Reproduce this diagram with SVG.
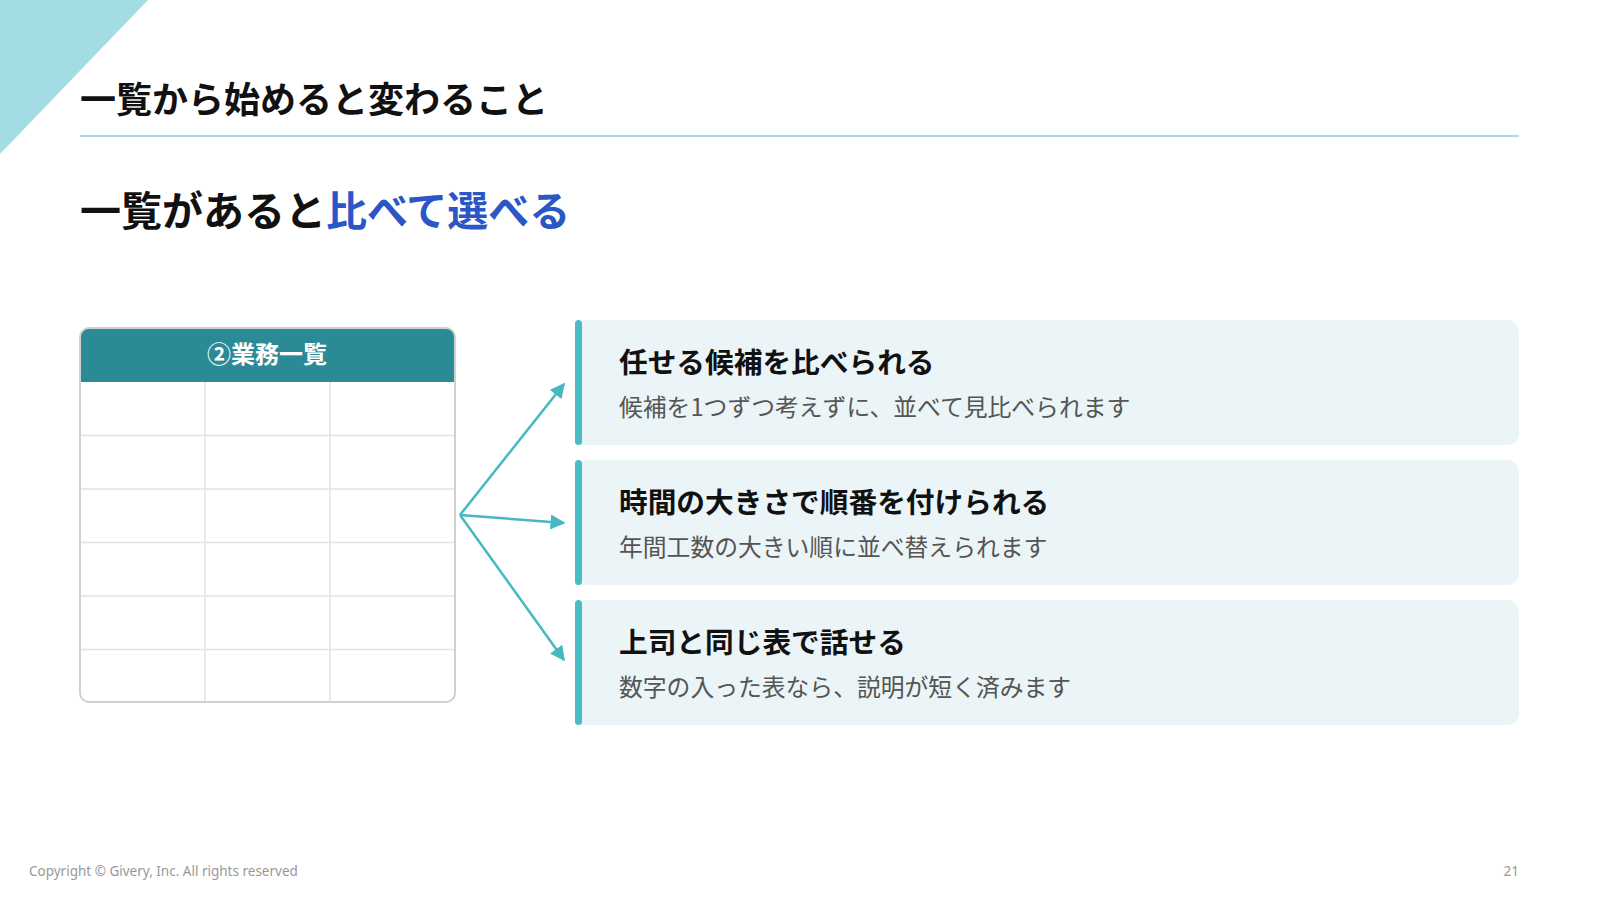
<svg xmlns="http://www.w3.org/2000/svg" width="1600" height="900" viewBox="0 0 1600 900">
<defs>
<style>
.jp{font-family:"Noto Sans CJK JP","Noto Sans",sans-serif}
.h1{font-size:36px;font-weight:700;fill:#111}
.h2{font-size:41px;font-weight:700;fill:#111}
.ct{font-size:28.7px;font-weight:700;fill:#111}
.cd{font-size:23.8px;font-weight:400;fill:#555}
.card{fill:#ebf4f6}
.bar{fill:#4bbcc6}
.grid{stroke:#e2e2e2;stroke-width:1.5}
.conn{stroke:#45b8c2;stroke-width:2.5;fill:none}
.foot{font-family:"Noto Sans","Open Sans",sans-serif;font-size:13.5px;fill:#999}
</style>
<marker id="ah" viewBox="0 0 10 10" refX="9" refY="5" markerWidth="6" markerHeight="6" markerUnits="strokeWidth" orient="auto">
<path d="M0,0 L10,5 L0,10 z" fill="#45b8c2"/>
</marker>
</defs>
<rect width="1600" height="900" fill="#ffffff"/>
<polygon points="0,0 148,0 0,154" fill="#a3dde3"/>
<text class="jp h1" x="80" y="113">一覧から始めると変わること</text>
<line x1="80" y1="136" x2="1519" y2="136" stroke="#a8dbe2" stroke-width="2"/>
<text class="jp h2" x="80" y="226">一覧があると<tspan fill="#2a56c6">比べて選べる</tspan></text>

<g id="table">
<clipPath id="tc"><rect x="80" y="328" width="375" height="374" rx="9"/></clipPath>
<g clip-path="url(#tc)">
<rect x="80" y="328" width="375" height="374" fill="#ffffff"/>
<rect x="80" y="328" width="375" height="54" fill="#2a8a96"/>
<g class="grid">
<line x1="205" y1="382" x2="205" y2="702"/>
<line x1="330" y1="382" x2="330" y2="702"/>
<line x1="80" y1="435.5" x2="455" y2="435.5"/>
<line x1="80" y1="489" x2="455" y2="489"/>
<line x1="80" y1="542.5" x2="455" y2="542.5"/>
<line x1="80" y1="596" x2="455" y2="596"/>
<line x1="80" y1="649.5" x2="455" y2="649.5"/>
</g>
</g>
<rect x="80" y="328" width="375" height="374" rx="9" fill="none" stroke="#d0d0d0" stroke-width="2"/>
<text class="jp" x="267" y="363" text-anchor="middle" font-size="24" font-weight="700" fill="#ffffff">②業務一覧</text>
</g>

<g id="connectors">
<line class="conn" x1="460" y1="515" x2="564" y2="384" marker-end="url(#ah)"/>
<line class="conn" x1="460" y1="515" x2="564" y2="523" marker-end="url(#ah)"/>
<line class="conn" x1="460" y1="515" x2="564" y2="660" marker-end="url(#ah)"/>
</g>

<g id="card1">
<rect class="card" x="575" y="320" width="944" height="125" rx="12"/>
<rect class="bar" x="575" y="320" width="7" height="125" rx="3.5"/>
<text class="jp ct" x="619" y="373">任せる候補を比べられる</text>
<text class="jp cd" x="619" y="416">候補を1つずつ考えずに、並べて見比べられます</text>
</g>
<g id="card2">
<rect class="card" x="575" y="460" width="944" height="125" rx="12"/>
<rect class="bar" x="575" y="460" width="7" height="125" rx="3.5"/>
<text class="jp ct" x="619" y="513">時間の大きさで順番を付けられる</text>
<text class="jp cd" x="619" y="556">年間工数の大きい順に並べ替えられます</text>
</g>
<g id="card3">
<rect class="card" x="575" y="600" width="944" height="125" rx="12"/>
<rect class="bar" x="575" y="600" width="7" height="125" rx="3.5"/>
<text class="jp ct" x="619" y="653">上司と同じ表で話せる</text>
<text class="jp cd" x="619" y="696">数字の入った表なら、説明が短く済みます</text>
</g>

<text class="foot" x="29" y="876">Copyright © Givery, Inc. All rights reserved</text>
<text class="foot" x="1519" y="876" text-anchor="end">21</text>
</svg>
